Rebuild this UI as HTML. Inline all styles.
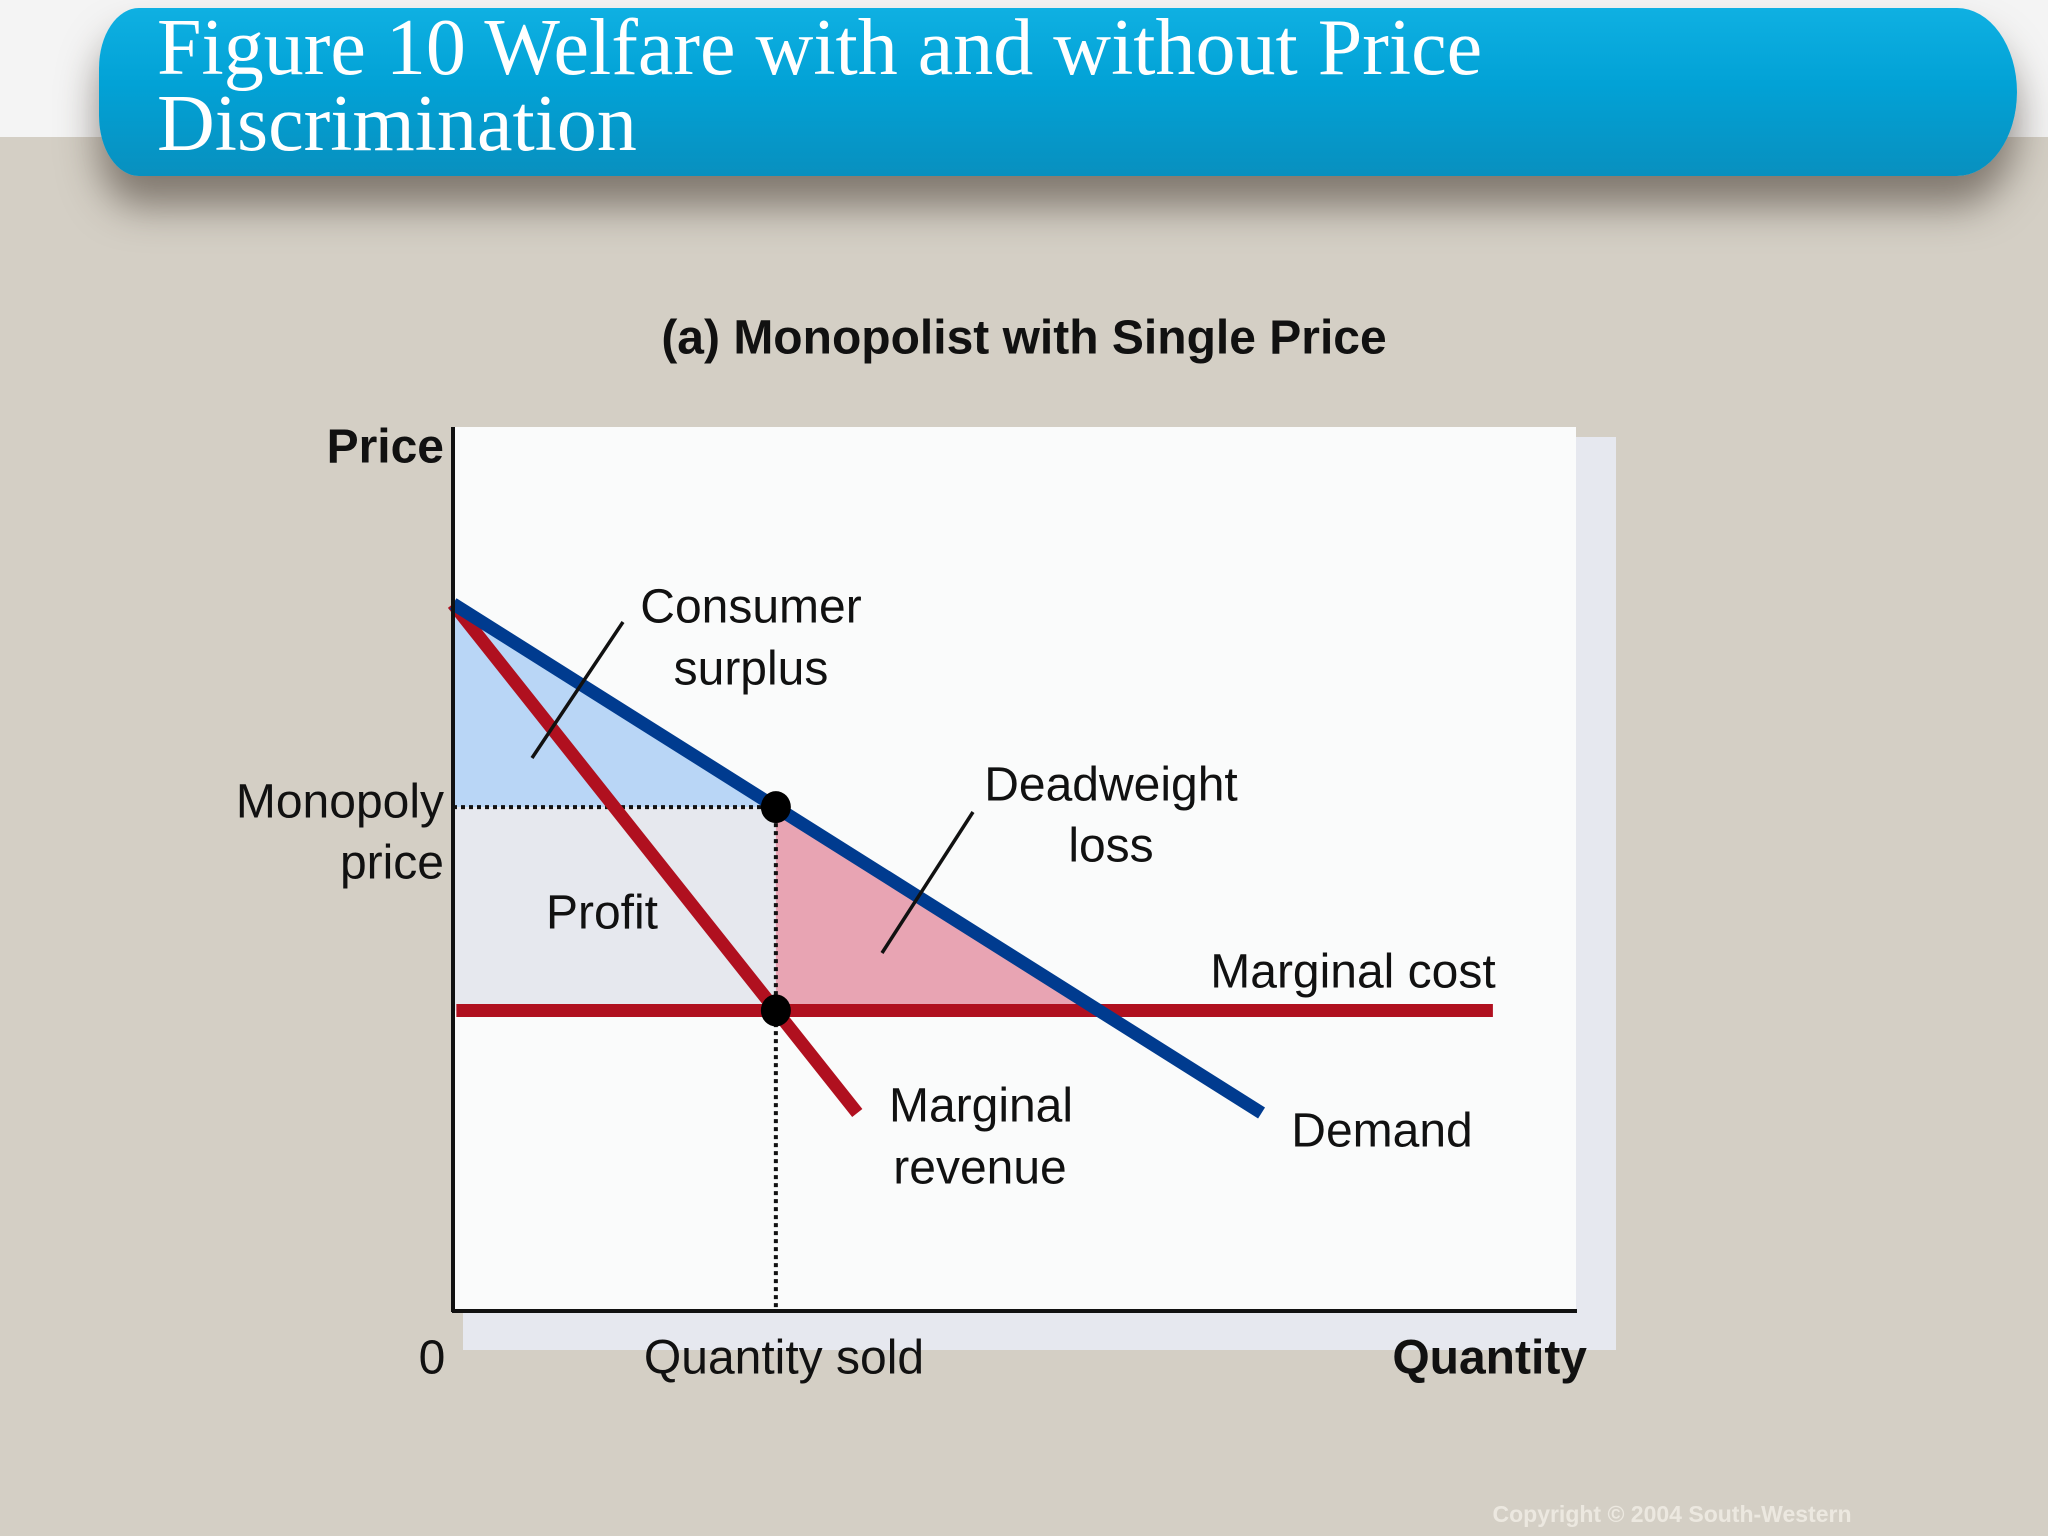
<!DOCTYPE html>
<html><head><meta charset="utf-8"><style>
html,body{margin:0;padding:0}
body{width:2048px;height:1536px;overflow:hidden;background:#d4cfc5;position:relative;font-family:"Liberation Sans",sans-serif}
#topbg{position:absolute;left:0;top:0;width:2048px;height:137px;background:#f4f4f4}
#hdr{position:absolute;left:99px;top:8px;width:1918px;height:168px;border-radius:40px 60px 60px 40px/60px 84px 84px 60px;background:linear-gradient(180deg,#0fb0e2 0%,#02a2d6 45%,#0890bf 100%);box-shadow:0 30px 40px rgba(60,50,40,0.55)}
#hdr h1{margin:0;position:absolute;left:58px;top:2px;font-family:"Liberation Serif",serif;font-weight:normal;font-size:80px;line-height:76px;color:#fff}
</style></head><body>
<div id="topbg"></div>
<div id="hdr"><h1>Figure 10 Welfare with and without Price<br>Discrimination</h1></div>
<svg id="chart" width="2048" height="1536" style="position:absolute;left:0;top:0">
<rect x="463" y="437" width="1153" height="913" fill="#e6e8ef"/>
<rect x="453" y="427" width="1123" height="884" fill="#fafbfb"/>
<g id="marks"></g>
<line x1="453" y1="427" x2="453" y2="1312" stroke="#111" stroke-width="4"/>
<line x1="452" y1="1311" x2="1577" y2="1311" stroke="#111" stroke-width="4"/>
<g font-size="48" fill="#111" dominant-baseline="central">
<text x="1024" y="338" text-anchor="middle" font-weight="bold" font-size="48">(a) Monopolist with Single Price</text>
<text x="444" y="447" text-anchor="end" font-weight="bold">Price</text>
<text x="444" y="802" text-anchor="end">Monopoly</text>
<text x="444" y="863" text-anchor="end">price</text>
<text x="751" y="607" text-anchor="middle">Consumer</text>
<text x="751" y="669" text-anchor="middle">surplus</text>
<text x="1111" y="785" text-anchor="middle">Deadweight</text>
<text x="1111" y="846" text-anchor="middle">loss</text>
<text x="602" y="913" text-anchor="middle">Profit</text>
<text x="1353" y="972" text-anchor="middle">Marginal cost</text>
<text x="981" y="1106" text-anchor="middle">Marginal</text>
<text x="980" y="1168" text-anchor="middle">revenue</text>
<text x="1382" y="1131" text-anchor="middle">Demand</text>
<text x="432" y="1358" text-anchor="middle">0</text>
<text x="784" y="1358" text-anchor="middle">Quantity sold</text>
<text x="1587" y="1358" text-anchor="end" font-weight="bold">Quantity</text>
</g>
<line x1="623" y1="622" x2="532" y2="758" stroke="#111" stroke-width="3.5"/>
<line x1="973" y1="812" x2="882" y2="953" stroke="#111" stroke-width="3.5"/>
<text x="1672" y="1522" text-anchor="middle" font-size="23" font-weight="bold" fill="#ece8e0">Copyright © 2004  South-Western</text>
</svg>
<script>
const priceIntercept = [80];
const demandSlope = [0.8];
const mrSlope = [1.6];
const marginalCost = [34];
const demandEndQ = [72];
const mrEndQ = [36];
const mcEndQ = [92.6];
const xs = q => 453 + q * 11.23;
const ys = p => 1311 - p * 8.84;
const NS = 'http://www.w3.org/2000/svg';
const g = document.getElementById('marks');
const a = priceIntercept[0], b = demandSlope[0], m = mrSlope[0], mc = marginalCost[0];
const qm = (a - mc) / m, pm = a - b * qm, qc = (a - mc) / b;
function poly(pts, fill, name) {
  const el = document.createElementNS(NS, 'polygon');
  el.setAttribute('points', pts.map(p => xs(p[0]) + ',' + ys(p[1])).join(' '));
  el.setAttribute('fill', fill);
  
  
  g.appendChild(el);
}
function line(q1, p1, q2, p2, color, w, name, dash) {
  const el = document.createElementNS(NS, 'line');
  el.setAttribute('x1', xs(q1)); el.setAttribute('y1', ys(p1));
  el.setAttribute('x2', xs(q2)); el.setAttribute('y2', ys(p2));
  el.setAttribute('stroke', color); el.setAttribute('stroke-width', w);
  if (dash) el.setAttribute('stroke-dasharray', dash);
  
  
  g.appendChild(el);
}
function dot(q, p, name) {
  const el = document.createElementNS(NS, 'ellipse');
  el.setAttribute('cx', xs(q)); el.setAttribute('cy', ys(p));
  el.setAttribute('rx', 15); el.setAttribute('ry', 16);
  el.setAttribute('fill', '#000');
  
  
  g.appendChild(el);
}
poly([[0, a], [qm, pm], [0, pm]], '#b9d6f6', 'consumer-surplus-area');
poly([[0, pm], [qm, pm], [qm, mc], [0, mc]], '#e6e8ee', 'profit-area');
poly([[qm, pm], [qm, mc], [qc, mc]], '#e8a4b3', 'deadweight-loss-area');
line(0, pm, qm, pm, '#111', 4, 'monopoly-price-guide', '4 4');
line(qm, pm, qm, 0, '#111', 4, 'quantity-sold-guide', '4 4');
line(0.3, mc, mcEndQ[0], mc, '#b0101f', 13, 'marginal-cost-line');
line(0, a, mrEndQ[0], a - m * mrEndQ[0], '#b0101f', 13, 'marginal-revenue-line');
line(0, a, demandEndQ[0], a - b * demandEndQ[0], '#003b8f', 13, 'demand-line');
dot(qm, pm, 'monopoly-point');
dot(qm, mc, 'mr-mc-point');
</script>
</body></html>
